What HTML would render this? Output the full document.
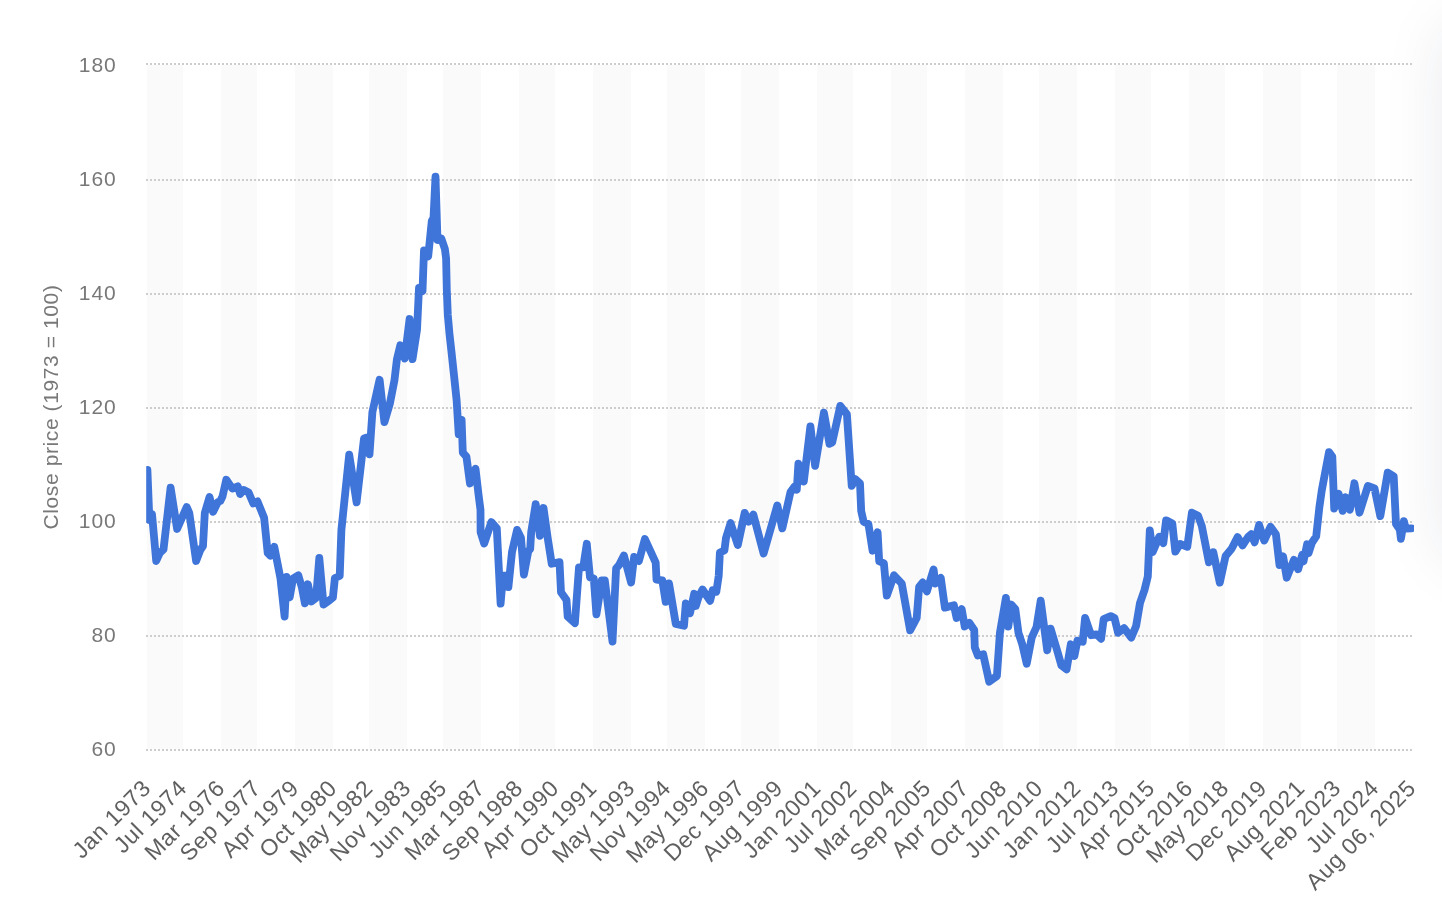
<!DOCTYPE html>
<html lang="en"><head><meta charset="utf-8"><title>Close price (1973 = 100)</title>
<style>
html,body{margin:0;padding:0;background:#fff;}
body{width:1442px;height:918px;overflow:hidden;position:relative;font-family:"Liberation Sans",sans-serif;}
svg{position:absolute;left:0;top:0;display:block}
svg text{font-family:"Liberation Sans",sans-serif;}
svg{will-change:transform}
.shadow{position:absolute;left:1460px;top:40px;width:80px;height:506px;border-radius:6px;box-shadow:0 0 64px 14px rgba(25,35,80,0.10);}
</style></head><body>
<div class="shadow"></div>
<svg width="1442" height="918" viewBox="0 0 1442 918">
<defs><clipPath id="c"><rect x="146.2" y="60" width="1267.8" height="694"/></clipPath></defs>

<g fill="#fafafa" shape-rendering="crispEdges">
<rect x="147.0" y="65" width="36.0" height="684"/>
<rect x="221.0" y="65" width="36.0" height="684"/>
<rect x="295.0" y="65" width="38.0" height="684"/>
<rect x="369.0" y="65" width="38.0" height="684"/>
<rect x="443.0" y="65" width="38.0" height="684"/>
<rect x="519.0" y="65" width="36.0" height="684"/>
<rect x="593.0" y="65" width="38.0" height="684"/>
<rect x="667.0" y="65" width="38.0" height="684"/>
<rect x="741.0" y="65" width="38.0" height="684"/>
<rect x="817.0" y="65" width="36.0" height="684"/>
<rect x="891.0" y="65" width="36.0" height="684"/>
<rect x="965.0" y="65" width="38.0" height="684"/>
<rect x="1039.0" y="65" width="38.0" height="684"/>
<rect x="1115.0" y="65" width="36.0" height="684"/>
<rect x="1189.0" y="65" width="36.0" height="684"/>
<rect x="1263.0" y="65" width="38.0" height="684"/>
<rect x="1337.0" y="65" width="38.0" height="684"/>
</g>
<g stroke="#cdcdcd" stroke-width="2" stroke-dasharray="2 2" fill="none" shape-rendering="crispEdges">
<path d="M146 64 H1412"/>
<path d="M146 180 H1412"/>
<path d="M146 294 H1412"/>
<path d="M146 408 H1412"/>
<path d="M146 522 H1412"/>
<path d="M146 636 H1412"/>
<path d="M146 750 H1412"/>
</g>
<g clip-path="url(#c)"><path d="M147.4 470.0 L149.4 520.0 L152.0 514.0 L156.2 561.0 L159.8 553.0 L163.5 549.5 L170.6 487.7 L177.1 529.0 L186.7 507.0 L189.3 513.0 L196.1 561.0 L200.3 550.0 L203.0 546.0 L204.8 513.0 L209.5 497.0 L213.1 511.7 L217.9 502.0 L220.3 501.0 L222.5 496.5 L226.3 479.7 L232.4 488.6 L237.8 486.4 L240.2 494.0 L243.8 490.0 L248.6 492.5 L253.3 503.5 L257.5 501.4 L264.1 517.7 L267.7 553.0 L270.4 555.7 L274.3 546.9 L280.4 577.9 L284.6 616.5 L286.6 577.0 L289.7 597.3 L293.0 578.5 L298.3 575.3 L301.9 587.5 L304.9 603.3 L307.9 584.3 L311.5 601.5 L316.1 598.0 L319.3 558.0 L323.5 604.5 L329.5 600.3 L332.9 597.5 L334.9 578.0 L339.7 576.0 L341.4 530.0 L349.2 454.6 L356.6 502.3 L364.0 438.5 L367.0 437.5 L369.5 454.3 L372.4 412.0 L379.6 379.7 L384.4 422.1 L389.8 403.9 L394.5 379.9 L396.9 359.5 L400.3 345.3 L404.7 358.6 L409.6 319.0 L412.5 359.2 L417.0 330.0 L419.0 288.0 L422.5 291.0 L424.0 250.5 L428.2 256.3 L431.8 221.0 L433.5 218.0 L435.5 176.7 L437.5 240.0 L441.3 238.5 L444.9 249.0 L446.1 258.5 L446.8 290.0 L447.8 315.0 L449.5 334.0 L451.5 352.0 L454.5 380.0 L456.6 400.0 L458.7 434.2 L461.6 419.8 L462.8 452.7 L466.4 456.6 L470.0 483.5 L475.5 468.7 L478.7 495.9 L480.5 510.0 L480.6 532.0 L484.2 543.6 L491.4 522.1 L496.8 528.3 L500.6 603.7 L503.0 575.7 L507.2 575.4 L508.4 587.0 L512.0 552.0 L517.1 529.9 L521.0 538.0 L523.9 574.5 L528.3 551.0 L530.2 549.0 L531.2 532.0 L535.7 504.1 L539.9 535.8 L543.5 508.0 L547.7 538.0 L551.7 563.7 L559.5 562.1 L561.0 592.3 L566.5 600.0 L567.7 616.7 L574.9 623.1 L579.0 567.3 L583.2 567.4 L586.8 543.8 L590.0 577.5 L593.8 578.5 L596.4 614.3 L601.8 580.3 L604.8 580.5 L612.5 641.6 L616.1 568.6 L619.1 565.0 L623.9 555.5 L631.1 582.6 L634.1 556.9 L638.9 561.0 L644.9 539.0 L655.7 562.6 L656.5 579.6 L662.3 580.3 L665.7 601.8 L669.0 583.4 L675.8 624.0 L684.0 625.7 L685.8 603.5 L690.0 613.3 L694.2 593.7 L695.8 606.0 L698.4 597.5 L702.5 589.5 L710.1 600.8 L712.7 590.3 L716.3 591.8 L718.7 576.0 L719.9 552.5 L724.4 550.5 L726.0 538.0 L730.6 523.1 L737.8 545.1 L744.7 512.9 L748.6 521.8 L753.3 514.5 L763.6 553.5 L777.3 505.4 L782.3 528.4 L790.5 492.0 L794.5 486.5 L796.8 489.7 L798.4 463.7 L803.8 481.5 L810.4 426.3 L815.1 465.9 L823.9 412.7 L829.5 443.8 L832.2 442.5 L840.3 405.9 L846.9 414.2 L851.7 485.8 L855.3 479.2 L860.0 483.5 L861.2 511.0 L863.6 521.7 L868.4 524.0 L872.6 550.7 L877.6 532.3 L879.2 561.3 L883.9 563.4 L886.8 595.6 L894.0 575.3 L901.8 583.7 L910.1 630.3 L916.7 618.0 L919.1 587.0 L922.7 582.5 L926.9 591.4 L933.6 569.4 L935.3 583.6 L940.8 578.0 L944.9 607.6 L953.9 605.3 L956.6 618.0 L961.7 609.1 L964.7 626.5 L969.4 622.9 L974.2 630.0 L974.8 647.3 L977.9 655.5 L983.2 654.3 L989.2 681.7 L996.9 676.0 L999.9 633.0 L1005.9 597.9 L1008.3 626.6 L1011.3 604.5 L1015.3 609.0 L1018.5 633.0 L1022.1 643.7 L1026.7 663.7 L1031.7 637.7 L1036.5 627.0 L1040.7 600.7 L1047.2 650.3 L1050.6 628.6 L1057.0 650.0 L1061.4 665.4 L1066.6 669.3 L1070.8 644.3 L1074.4 656.1 L1077.4 640.7 L1082.7 641.8 L1085.1 617.9 L1091.1 635.2 L1096.5 634.3 L1101.1 638.8 L1103.7 619.1 L1110.7 616.1 L1114.5 618.0 L1118.1 632.8 L1124.1 628.1 L1131.3 637.6 L1136.1 626.0 L1140.0 603.0 L1144.5 590.0 L1147.8 576.5 L1149.8 530.3 L1152.6 552.2 L1159.2 536.7 L1163.3 543.2 L1166.1 520.3 L1172.3 523.5 L1175.3 551.6 L1180.1 543.9 L1187.3 546.8 L1191.9 512.7 L1198.1 515.7 L1201.8 526.0 L1208.9 562.3 L1213.3 552.2 L1219.8 582.6 L1225.6 556.0 L1231.6 548.7 L1237.6 537.1 L1242.6 545.4 L1248.3 536.7 L1251.3 534.1 L1254.6 542.4 L1259.1 524.9 L1264.2 540.6 L1270.5 526.9 L1275.9 534.3 L1279.5 565.1 L1283.1 556.3 L1286.7 577.7 L1293.9 559.9 L1298.1 569.3 L1302.3 554.7 L1303.5 561.5 L1307.1 544.3 L1308.5 553.2 L1311.9 542.7 L1316.2 536.3 L1319.4 507.0 L1321.8 490.3 L1329.0 452.1 L1332.3 456.5 L1334.2 508.5 L1338.6 493.7 L1342.7 510.9 L1345.7 497.3 L1349.9 509.7 L1354.4 483.3 L1359.5 512.7 L1367.9 485.9 L1374.5 488.3 L1380.3 516.1 L1387.7 472.7 L1393.7 476.3 L1396.0 524.0 L1399.8 529.5 L1400.9 538.9 L1403.9 521.2 L1405.7 528.7 L1411.5 528.3" fill="none" stroke="#3f74d9" stroke-width="7.8" stroke-linejoin="round" stroke-linecap="round"/></g>
<g fill="#787878" font-size="21" text-anchor="end" letter-spacing="1.0">
<text x="116.8" y="72.2">180</text>
<text x="116.8" y="186.2">160</text>
<text x="116.8" y="300.2">140</text>
<text x="116.8" y="414.2">120</text>
<text x="116.8" y="528.2">100</text>
<text x="116.8" y="642.2">80</text>
<text x="116.8" y="756.2">60</text>
</g>
<text fill="#787878" font-size="21" letter-spacing="0.6" text-anchor="middle" transform="translate(58 407) rotate(-90)">Close price (1973 = 100)</text>
<g fill="#606060" font-size="23" text-anchor="end" letter-spacing="0.6">
<text transform="translate(152.2 789.5) rotate(-45)">Jan 1973</text>
<text transform="translate(188.2 789.5) rotate(-45)">Jul 1974</text>
<text transform="translate(226.2 789.5) rotate(-45)">Mar 1976</text>
<text transform="translate(262.2 789.5) rotate(-45)">Sep 1977</text>
<text transform="translate(300.2 789.5) rotate(-45)">Apr 1979</text>
<text transform="translate(338.2 789.5) rotate(-45)">Oct 1980</text>
<text transform="translate(374.2 789.5) rotate(-45)">May 1982</text>
<text transform="translate(412.2 789.5) rotate(-45)">Nov 1983</text>
<text transform="translate(448.2 789.5) rotate(-45)">Jun 1985</text>
<text transform="translate(486.2 789.5) rotate(-45)">Mar 1987</text>
<text transform="translate(524.2 789.5) rotate(-45)">Sep 1988</text>
<text transform="translate(560.2 789.5) rotate(-45)">Apr 1990</text>
<text transform="translate(598.2 789.5) rotate(-45)">Oct 1991</text>
<text transform="translate(636.2 789.5) rotate(-45)">May 1993</text>
<text transform="translate(672.2 789.5) rotate(-45)">Nov 1994</text>
<text transform="translate(710.2 789.5) rotate(-45)">May 1996</text>
<text transform="translate(746.2 789.5) rotate(-45)">Dec 1997</text>
<text transform="translate(784.2 789.5) rotate(-45)">Aug 1999</text>
<text transform="translate(822.2 789.5) rotate(-45)">Jan 2001</text>
<text transform="translate(858.2 789.5) rotate(-45)">Jul 2002</text>
<text transform="translate(896.2 789.5) rotate(-45)">Mar 2004</text>
<text transform="translate(932.2 789.5) rotate(-45)">Sep 2005</text>
<text transform="translate(970.2 789.5) rotate(-45)">Apr 2007</text>
<text transform="translate(1008.2 789.5) rotate(-45)">Oct 2008</text>
<text transform="translate(1044.2 789.5) rotate(-45)">Jun 2010</text>
<text transform="translate(1082.2 789.5) rotate(-45)">Jan 2012</text>
<text transform="translate(1120.2 789.5) rotate(-45)">Jul 2013</text>
<text transform="translate(1156.2 789.5) rotate(-45)">Apr 2015</text>
<text transform="translate(1194.2 789.5) rotate(-45)">Oct 2016</text>
<text transform="translate(1230.2 789.5) rotate(-45)">May 2018</text>
<text transform="translate(1268.2 789.5) rotate(-45)">Dec 2019</text>
<text transform="translate(1306.2 789.5) rotate(-45)">Aug 2021</text>
<text transform="translate(1342.2 789.5) rotate(-45)">Feb 2023</text>
<text transform="translate(1380.2 789.5) rotate(-45)">Jul 2024</text>
<text transform="translate(1417.2 789.5) rotate(-45)">Aug 06, 2025</text>
</g>
</svg></body></html>
